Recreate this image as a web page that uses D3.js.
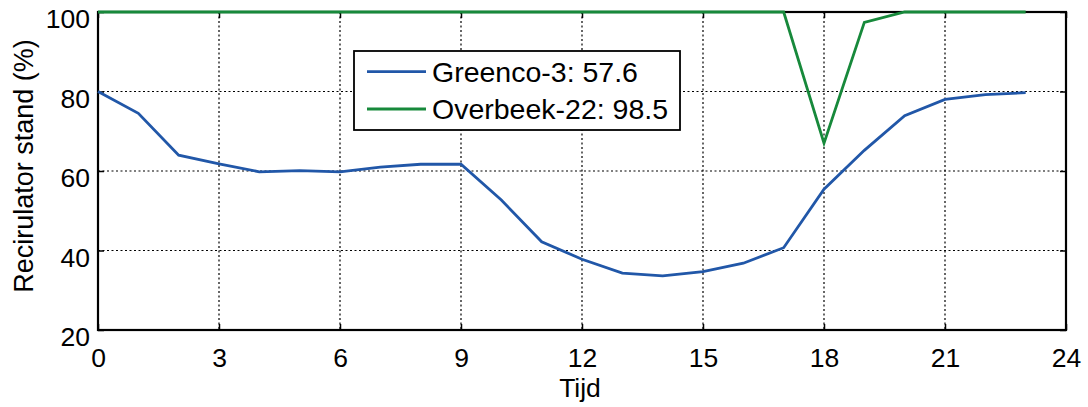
<!DOCTYPE html>
<html>
<head>
<meta charset="utf-8">
<script src="https://cdn.jsdelivr.net/npm/d3@7"></script>
<style>
  html, body { margin: 0; padding: 0; background: #fff; }
  svg { display: block; font-family: "Liberation Sans", Arial, Helvetica, sans-serif; }
</style>
</head>
<body>
<svg id="chart" width="1088" height="407"></svg>
<script>
const hours = d3.range(0, 24);
const greenco = [80, 74.5, 64, 61.8, 59.8, 60.1, 59.8, 61, 61.7, 61.7, 52.7, 42.2, 37.8, 34.3, 33.6, 34.7, 36.8, 40.7, 55.4, 65.2, 73.9, 78, 79.2, 79.7];
const overbeek = [100, 100, 100, 100, 100, 100, 100, 100, 100, 100, 100, 100, 100, 100, 100, 100, 100, 100, 67, 97.4, 100, 100, 100, 100];
const seriesNames = ["Greenco-3: 57.6", "Overbeek-22: 98.5"];
const seriesColors = ["#2157a8", "#17893b"];
const xTicks = [0, 3, 6, 9, 12, 15, 18, 21, 24];
const yTicks = [20, 40, 60, 80, 100];
const xLabel = "Tijd";
const yLabel = "Recirulator stand (%)";

const svg = d3.select("#chart");
const L = 98, R = 1066, T = 12, B = 330;
const x = d3.scaleLinear().domain([0, 24]).range([L, R]);
const y = d3.scaleLinear().domain([20, 100]).range([B, T]);

// grid
const grid = svg.append("g");
grid.selectAll("line.gx").data(xTicks.filter(d => d > 0 && d < 24)).join("line")
  .attr("x1", d => x(d)).attr("x2", d => x(d)).attr("y1", T).attr("y2", B)
  .attr("stroke", "#000").attr("stroke-width", 1.2).attr("stroke-dasharray", "2,2.5");
grid.selectAll("line.gy").data(yTicks.filter(d => d > 20 && d < 100)).join("line")
  .attr("x1", L).attr("x2", R).attr("y1", d => y(d)).attr("y2", d => y(d))
  .attr("stroke", "#000").attr("stroke-width", 1.2).attr("stroke-dasharray", "2,2.5");

// axes box
svg.append("rect").attr("x", L).attr("y", T).attr("width", R - L).attr("height", B - T)
  .attr("fill", "none").attr("stroke", "#000").attr("stroke-width", 2.2);

// axes with ticks
const xAxis = svg.append("g").attr("transform", `translate(0,${B})`)
  .call(d3.axisBottom(x).tickValues(xTicks).tickSize(-6).tickFormat(d3.format("d")));
const xAxisTop = svg.append("g").attr("transform", `translate(0,${T})`)
  .call(d3.axisTop(x).tickValues(xTicks).tickSize(-6).tickFormat(""));
const yAxis = svg.append("g").attr("transform", `translate(${L},0)`)
  .call(d3.axisLeft(y).tickValues(yTicks).tickSize(-6).tickFormat(d3.format("d")));
const yAxisR = svg.append("g").attr("transform", `translate(${R},0)`)
  .call(d3.axisRight(y).tickValues(yTicks).tickSize(-6).tickFormat(""));
[xAxis, xAxisTop, yAxis, yAxisR].forEach(g => {
  g.select(".domain").remove();
  g.selectAll(".tick line").attr("stroke", "#000").attr("stroke-width", 1.5);
  g.selectAll(".tick text").attr("font-size", 26.5).attr("fill", "#000")
    .attr("font-family", "Liberation Sans, Arial, sans-serif");
});
xAxis.selectAll(".tick text").attr("dy", "0.71em").attr("y", 18);
yAxis.selectAll(".tick text").attr("dy", "0.6em").attr("x", -8);

// lines
const line = d3.line().x((d, i) => x(hours[i])).y(d => y(d));
[greenco, overbeek].forEach((s, k) => {
  svg.append("path").datum(s).attr("d", line)
    .attr("fill", "none").attr("stroke", seriesColors[k]).attr("stroke-width", 2.8)
    .attr("stroke-linejoin", "miter");
});

// labels
svg.append("text").attr("x", (L + R) / 2 - 2).attr("y", 397).attr("text-anchor", "middle")
  .attr("font-size", 26.5).text(xLabel);
svg.append("text").attr("transform", `translate(33,166) rotate(-90)`).attr("text-anchor", "middle")
  .attr("font-size", 27).text(yLabel);

// legend
const lg = svg.append("g");
lg.append("rect").attr("x", 354).attr("y", 51).attr("width", 326).attr("height", 79)
  .attr("fill", "#fff").attr("stroke", "#000").attr("stroke-width", 1.8);
const rows = [71.7, 109];
seriesNames.forEach((n, k) => {
  lg.append("line").attr("x1", 367).attr("x2", 426).attr("y1", rows[k]).attr("y2", rows[k])
    .attr("stroke", seriesColors[k]).attr("stroke-width", 2.8);
  lg.append("text").attr("x", 432).attr("y", rows[k] + 10).attr("font-size", 28.5)
    .attr("fill", "#000").text(n);
});
</script>
</body>
</html>
